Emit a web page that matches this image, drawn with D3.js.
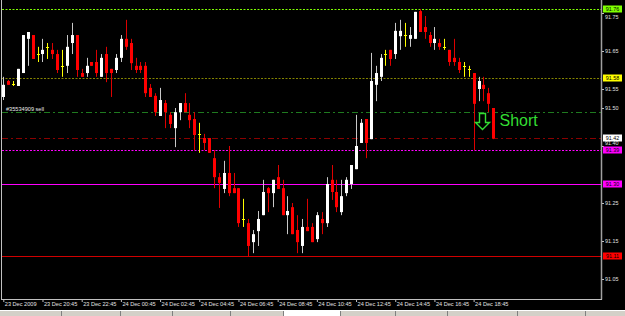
<!DOCTYPE html>
<html>
<head>
<meta charset="utf-8">
<script src="https://cdn.jsdelivr.net/npm/d3@7"></script>
<style>
body { margin: 0; background: #000; }
svg { display: block; }
</style>
</head>
<body>
<svg width="625" height="316"></svg>
<script>
// USDJPY M15, 23-24 Dec 2009
const firstBar = "2009-12-23 18:45";

const opens = [91.529,91.571,91.563,91.558,91.592,91.682,91.692,91.642,91.642,91.661,
  91.653,91.642,91.611,91.611,91.671,91.692,91.592,91.592,91.621,91.621,
  91.582,91.642,91.603,91.600,91.632,91.682,91.671,91.611,91.611,91.611,
  91.553,91.532,91.479,91.513,91.482,91.447,91.489,91.513,91.482,91.471,
  91.432,91.421,91.421,91.368,91.318,91.287,91.329,91.289,91.289,91.208,
  91.197,91.147,91.176,91.218,91.289,91.276,91.318,91.289,91.218,91.239,
  91.179,91.137,91.187,91.187,91.155,91.208,91.197,91.311,91.279,91.226,
  91.276,91.300,91.339,91.408,91.471,91.418,91.561,91.582,91.642,91.653,
  91.642,91.689,91.692,91.682,91.682,91.755,91.713,91.692,91.671,91.671,
  91.661,91.653,91.632,91.621,91.611,91.603,91.592,91.550,91.561,91.539,
  91.500];
const highs = [91.582,91.574,91.571,91.603,91.692,91.700,91.692,91.661,91.682,91.671,
  91.671,91.653,91.653,91.692,91.724,91.692,91.603,91.632,91.621,91.653,
  91.642,91.661,91.603,91.642,91.692,91.732,91.682,91.632,91.621,91.621,
  91.563,91.539,91.553,91.521,91.489,91.500,91.513,91.539,91.513,91.489,
  91.461,91.432,91.421,91.389,91.329,91.361,91.400,91.329,91.289,91.261,
  91.208,91.179,91.229,91.311,91.292,91.311,91.350,91.311,91.268,91.250,
  91.218,91.208,91.261,91.197,91.226,91.226,91.318,91.350,91.311,91.311,
  91.318,91.350,91.482,91.471,91.471,91.645,91.611,91.642,91.653,91.653,
  91.724,91.732,91.724,91.713,91.753,91.760,91.742,91.700,91.713,91.682,
  91.682,91.653,91.682,91.632,91.621,91.611,91.592,91.582,91.582,91.553,
  91.500];
const lows = [91.521,91.561,91.558,91.558,91.592,91.611,91.629,91.621,91.621,91.629,
  91.629,91.592,91.582,91.592,91.642,91.582,91.582,91.582,91.611,91.582,
  91.582,91.568,91.529,91.592,91.621,91.653,91.600,91.592,91.592,91.529,
  91.529,91.479,91.479,91.447,91.447,91.397,91.468,91.489,91.447,91.389,
  91.382,91.389,91.382,91.289,91.237,91.276,91.268,91.276,91.187,91.187,
  91.110,91.118,91.137,91.218,91.226,91.239,91.287,91.218,91.168,91.168,
  91.118,91.118,91.176,91.147,91.147,91.168,91.187,91.258,91.226,91.218,
  91.268,91.287,91.339,91.408,91.368,91.418,91.518,91.571,91.611,91.611,
  91.629,91.653,91.661,91.661,91.682,91.700,91.682,91.661,91.653,91.653,
  91.653,91.611,91.611,91.592,91.582,91.582,91.389,91.518,91.518,91.489,
  91.418];
const closes = [91.561,91.561,91.563,91.603,91.692,91.700,91.629,91.642,91.653,91.661,
  91.642,91.600,91.611,91.661,91.692,91.600,91.582,91.611,91.611,91.592,
  91.632,91.592,91.592,91.632,91.682,91.661,91.618,91.600,91.600,91.539,
  91.529,91.489,91.521,91.489,91.458,91.489,91.513,91.489,91.468,91.429,
  91.432,91.408,91.382,91.318,91.303,91.329,91.276,91.276,91.197,91.208,
  91.137,91.168,91.208,91.279,91.276,91.311,91.287,91.218,91.229,91.168,
  91.147,91.187,91.176,91.147,91.218,91.197,91.300,91.279,91.239,91.268,
  91.311,91.350,91.400,91.461,91.408,91.571,91.592,91.632,91.642,91.629,
  91.703,91.703,91.692,91.692,91.753,91.700,91.700,91.671,91.682,91.661,
  91.661,91.621,91.621,91.600,91.611,91.603,91.511,91.571,91.550,91.511,
  91.420];

const priceTicks = [91.75, 91.65, 91.55, 91.50, 91.40, 91.25, 91.15, 91.05];
const levelPrices = [91.76, 91.58, 91.49, 91.42, 91.39, 91.30, 91.11];
const boxPrices = [91.76, 91.58, 91.42, 91.39, 91.30, 91.11];
const orderLabel = "#35534909 sell";
const signalText = "Short";
const signalBar = 98;

const levelStyle = [
  { color: "#7fff00", dash: "2,1.5" },
  { color: "#848400", dash: "2,1.5" },
  { color: "#1f7a1f", dash: "6,3,2,3" },
  { color: "#8b0000", dash: "6,3,2,3" },
  { color: "#ff00ff", dash: "2,1.5" },
  { color: "#ff00ff", dash: null },
  { color: "#d00000", dash: null }
];
const boxColors = ["#7fff00", "#ffff00", "#ffffff", "#ff00ff", "#ff00ff", "#ff0000"];

const svg = d3.select("svg");
const fontFam = "'Liberation Sans', Arial, sans-serif";

const t0 = d3.timeParse("%Y-%m-%d %H:%M")(firstBar);
const bars = opens.map((o, i) => ({
  t: d3.timeMinute.offset(t0, 15 * i),
  o: o, h: highs[i], l: lows[i], c: closes[i]
}));

const left = 2, right = 601, bottom = 299;

const x = d3.scaleTime()
  .domain([d3.timeMinute.offset(t0, -4), d3.timeMinute.offset(t0, 1830)])
  .range([left, right]);
const y = d3.scaleLinear().domain([91.05, 91.75]).range([279, 13]);

// levels
const lines = svg.append("g");
levelPrices.forEach((p, i) => {
  const yy = Math.round(y(p)) + 0.5;
  lines.append("line")
    .attr("x1", left).attr("x2", right)
    .attr("y1", yy).attr("y2", yy)
    .attr("stroke", levelStyle[i].color)
    .attr("stroke-width", 1)
    .attr("stroke-dasharray", levelStyle[i].dash);
});

// candles
const candles = svg.append("g")
  .selectAll("g")
  .data(bars)
  .join("g");

function colorOf(d) {
  if (d.o === d.c) return "#ffff00";
  return d.c > d.o ? "#ffffff" : "#ff0000";
}
function wickOf(d) {
  if (d.o === d.c) return "#ffff00";
  return d.c > d.o ? "#c8c8c8" : "#dd0000";
}

candles.append("line")
  .attr("x1", d => Math.round(x(d.t)) + 0.5)
  .attr("x2", d => Math.round(x(d.t)) + 0.5)
  .attr("y1", d => y(d.h))
  .attr("y2", d => y(d.l))
  .attr("stroke", wickOf)
  .attr("stroke-width", 1);

candles.append("rect")
  .attr("x", d => Math.round(x(d.t)) - 1)
  .attr("width", 3)
  .attr("y", d => d.o === d.c ? Math.round(y(d.o)) : y(Math.max(d.o, d.c)))
  .attr("height", d => d.o === d.c ? 1 : Math.max(1, Math.abs(y(d.o) - y(d.c))))
  .attr("fill", colorOf);

// frame
svg.append("line").attr("x1", 1.5).attr("x2", 1.5).attr("y1", 0).attr("y2", bottom)
  .attr("stroke", "#c0c0c0");
svg.append("line").attr("x1", right + 0.5).attr("x2", right + 0.5).attr("y1", 0).attr("y2", bottom + 0.5)
  .attr("stroke", "#a0a0a0").attr("stroke-width", 1.5);
svg.append("line").attr("x1", 1).attr("x2", right + 1).attr("y1", bottom + 0.5).attr("y2", bottom + 0.5)
  .attr("stroke", "#c0c0c0");

// price axis
const yAxis = svg.append("g")
  .attr("transform", `translate(${right + 1},0)`)
  .call(d3.axisRight(y).tickValues(priceTicks).tickSize(2).tickPadding(1)
    .tickFormat(d3.format(".2f")));
yAxis.select(".domain").remove();
yAxis.selectAll("line").attr("stroke", "#c0c0c0");
yAxis.selectAll("text").attr("fill", "#e0e0e0")
  .style("font-family", fontFam).style("font-size", "5.4px");
// labels that sit right against a price box are nudged clear of it
yAxis.selectAll(".tick").filter(d => d === 91.75).select("text").attr("dy", "1.1em");
yAxis.selectAll(".tick").filter(d => d === 91.40).select("text").attr("dy", "-0.2em");

// time axis
const timeTicks = bars.filter((d, i) => i % 8 === 0).map(d => d.t);
const xAxis = svg.append("g")
  .attr("transform", `translate(0,${bottom})`)
  .call(d3.axisBottom(x).tickValues(timeTicks).tickSize(3).tickPadding(0)
    .tickFormat((d, i) => i === 0 ? d3.timeFormat("%d %b %Y")(d) : d3.timeFormat("%d %b %H:%M")(d)));
xAxis.select(".domain").remove();
xAxis.selectAll("line").attr("stroke", "#c0c0c0");
xAxis.selectAll("text").attr("fill", "#e0e0e0")
  .attr("text-anchor", "start").attr("dx", 1)
  .style("font-family", fontFam).style("font-size", "5.6px");

// price boxes
const boxes = svg.append("g");
boxPrices.forEach((p, i) => {
  const yy = Math.round(y(p));
  boxes.append("rect")
    .attr("x", right + 2).attr("y", yy - 3.5)
    .attr("width", 19).attr("height", 7)
    .attr("fill", boxColors[i]);
  boxes.append("text")
    .attr("x", right + 11.5).attr("y", yy + 2)
    .attr("text-anchor", "middle")
    .attr("fill", "#000")
    .style("font-family", fontFam).style("font-size", "5.4px")
    .text(d3.format(".2f")(p));
});

// order label
svg.append("text")
  .attr("x", 6).attr("y", Math.round(y(levelPrices[2])) - 1)
  .attr("fill", "#e8e8e8")
  .style("font-family", fontFam).style("font-size", "5.6px")
  .text(orderLabel);

// signal arrow + text
const ax = Math.round(x(bars[signalBar].t)) - 0.5;
const ay = Math.round(y(levelPrices[2])) + 1.5;
svg.append("path")
  .attr("d", `M${ax - 3},${ay} L${ax + 3},${ay} L${ax + 3},${ay + 9} L${ax + 7},${ay + 9} L${ax},${ay + 16} L${ax - 7},${ay + 9} L${ax - 3},${ay + 9} Z`)
  .attr("fill", "none")
  .attr("stroke", "#33dd33")
  .attr("stroke-width", 1.4);
svg.append("text")
  .attr("x", ax + 17).attr("y", ay + 12)
  .attr("fill", "#33dd33")
  .style("font-family", fontFam).style("font-size", "16px")
  .text(signalText);

// terminal tabs strip
const tabEdges = [0, 61, 120, 172, 230, 283, 340, 395, 447, 517, 585, 625];
svg.append("rect").attr("x", 0).attr("y", 310).attr("width", 625).attr("height", 6)
  .attr("fill", "#d4d0c8");
svg.append("line").attr("x1", 0).attr("x2", 625).attr("y1", 310.5).attr("y2", 310.5)
  .attr("stroke", "#ffffff");
tabEdges.slice(1, -1).forEach(e => {
  svg.append("line").attr("x1", e + 0.5).attr("x2", e + 0.5).attr("y1", 311).attr("y2", 316)
    .attr("stroke", "#808080");
});
svg.append("rect").attr("x", 284).attr("y", 310).attr("width", 56).attr("height", 6)
  .attr("fill", "#ffffff");
</script>
</body>
</html>
